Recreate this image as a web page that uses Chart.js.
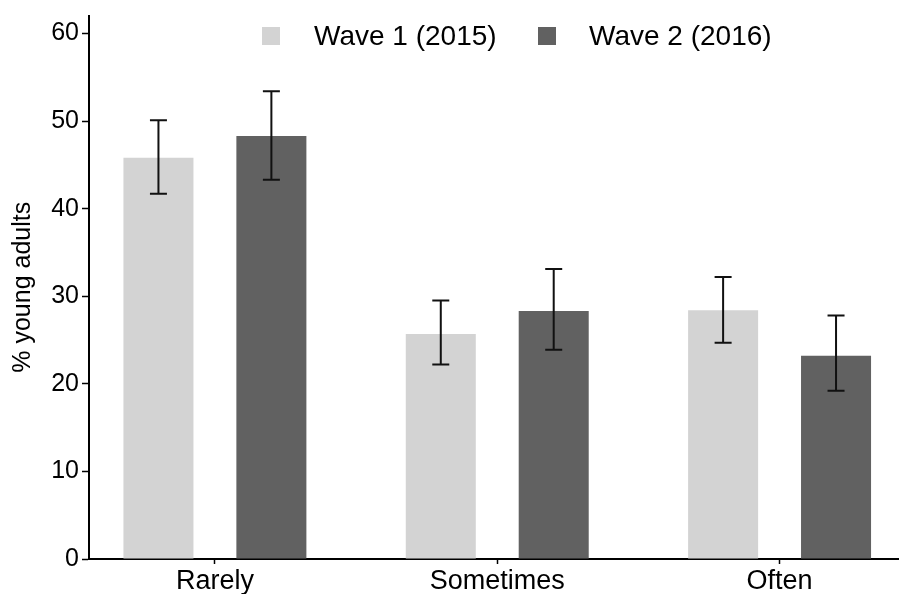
<!DOCTYPE html>
<html>
<head>
<meta charset="utf-8">
<script src="https://cdn.jsdelivr.net/npm/chart.js@4/dist/chart.umd.min.js"></script>
<style>
  html, body { margin: 0; padding: 0; background: #fff; }
  #wrap { width: 899px; height: 594px; }
</style>
</head>
<body>
<div id="wrap"><canvas id="waveChart"></canvas></div>
<script>
const categories = ['Rarely', 'Sometimes', 'Often'];
const seriesNames = ['Wave 1 (2015)', 'Wave 2 (2016)'];
const wave1 = [45.8, 25.7, 28.4];
const wave1Low = [41.7, 22.2, 24.7];
const wave1High = [50.1, 29.5, 32.2];
const wave2 = [48.3, 28.3, 23.2];
const wave2Low = [43.3, 23.9, 19.2];
const wave2High = [53.4, 33.1, 27.8];
const yTicks = [0, 10, 20, 30, 40, 50, 60];

const colors = ['#d3d3d3', '#616161'];
const fontFamily = "'Liberation Sans', Arial, Helvetica, sans-serif";

// error bars drawn on top of each bar
const errorBars = {
  id: 'errorBars',
  afterDatasetsDraw(chart) {
    const ctx = chart.ctx;
    const y = chart.scales.y;
    const lows = [wave1Low, wave2Low];
    const highs = [wave1High, wave2High];
    ctx.save();
    ctx.strokeStyle = '#111';
    ctx.lineWidth = 2;
    chart.data.datasets.forEach((ds, d) => {
      chart.getDatasetMeta(d).data.forEach((bar, i) => {
        const top = y.getPixelForValue(highs[d][i]);
        const bottom = y.getPixelForValue(lows[d][i]);
        ctx.beginPath();
        ctx.moveTo(bar.x, top);
        ctx.lineTo(bar.x, bottom);
        ctx.moveTo(bar.x - 8.5, top);
        ctx.lineTo(bar.x + 8.5, top);
        ctx.moveTo(bar.x - 8.5, bottom);
        ctx.lineTo(bar.x + 8.5, bottom);
        ctx.stroke();
      });
    });
    ctx.restore();
  }
};

// legend sits inside the plot, above the bars
const topLegend = {
  id: 'topLegend',
  afterDraw(chart) {
    const ctx = chart.ctx;
    const items = [
      { box: 262, text: 314 },
      { box: 538, text: 589 }
    ];
    ctx.save();
    ctx.font = '28px ' + fontFamily;
    ctx.textBaseline = 'middle';
    items.forEach((item, i) => {
      ctx.fillStyle = colors[i];
      ctx.fillRect(item.box, 27, 18, 18);
      ctx.fillStyle = '#000';
      ctx.fillText(seriesNames[i], item.text, 37);
    });
    ctx.restore();
  }
};

const ctx = document.getElementById('waveChart').getContext('2d');

new Chart(ctx, {
  type: 'bar',
  data: {
    datasets: [
      {
        label: seriesNames[0],
        data: wave1.map((v, i) => ({ x: i + 1, y: v })),
        backgroundColor: colors[0]
      },
      {
        label: seriesNames[1],
        data: wave2.map((v, i) => ({ x: i + 1, y: v })),
        backgroundColor: colors[1]
      }
    ]
  },
  options: {
    responsive: true,
    maintainAspectRatio: false,
    animation: false,
    categoryPercentage: 0.8,
    barPercentage: 0.62,
    layout: { padding: { top: 13, left: 0, right: 0, bottom: 0 } },
    plugins: {
      legend: { display: false },
      tooltip: { enabled: false }
    },
    scales: {
      x: {
        type: 'linear',
        offset: false,
        min: 0.554,
        max: 3.423,
        afterBuildTicks: (scale) => {
          scale.ticks = categories.map((c, i) => ({ value: i + 1 }));
        },
        afterFit: (scale) => { scale.height = 35; },
        ticks: {
          color: '#000',
          padding: 1,
          font: { family: fontFamily, size: 27 },
          callback: (value) => categories[value - 1]
        },
        grid: {
          offset: false,
          drawOnChartArea: false,
          tickLength: 5,
          tickColor: '#000',
          tickWidth: 1.5
        },
        border: { display: true, color: '#000', width: 2 }
      },
      y: {
        min: 0,
        max: 62.05,
        afterBuildTicks: (scale) => {
          scale.ticks = yTicks.map(v => ({ value: v }));
        },
        afterFit: (scale) => { scale.width = 89; },
        ticks: {
          color: '#000',
          padding: 3,
          font: { family: fontFamily, size: 25, lineHeight: 1 }
        },
        grid: {
          drawOnChartArea: false,
          tickLength: 7,
          tickColor: '#000',
          tickWidth: 1.5
        },
        border: { display: true, color: '#000', width: 2 },
        title: {
          display: true,
          text: '% young adults',
          color: '#000',
          font: { family: fontFamily, size: 25, lineHeight: 1 },
          padding: { top: 11, bottom: 0 }
        }
      }
    }
  },
  plugins: [errorBars, topLegend]
});
</script>
</body>
</html>
